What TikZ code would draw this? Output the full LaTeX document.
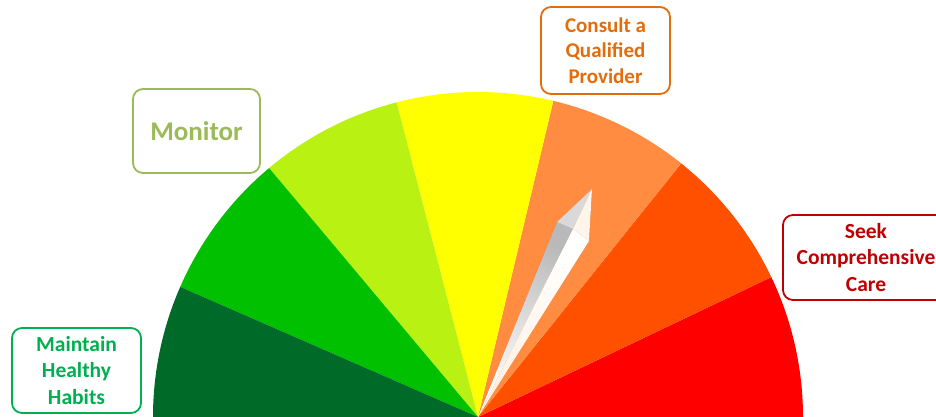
\documentclass[tikz,border=0pt]{standalone}
\usepackage{fontspec}
\setmainfont{Carlito}
\usetikzlibrary{positioning}

\definecolor{secDark}{RGB}{0,106,40}
\definecolor{secGreen}{RGB}{0,192,0}
\definecolor{secLime}{RGB}{185,242,18}
\definecolor{secYellow}{RGB}{255,255,0}
\definecolor{secPeach}{RGB}{255,140,64}
\definecolor{secOrange}{RGB}{255,80,0}
\definecolor{secRed}{RGB}{255,0,0}
\definecolor{tagHabit}{RGB}{0,176,80}
\definecolor{tagMonitor}{RGB}{155,187,89}
\definecolor{tagConsult}{RGB}{228,108,10}
\definecolor{tagSeek}{RGB}{192,0,0}

\begin{document}
\begin{tikzpicture}[x=1pt, y=1pt, font=\bfseries]
    \tikzstyle{tag} = [draw, rectangle, fill=white, align=center, rounded corners=10pt, line width=1.8pt, inner sep=0pt, minimum width=129pt, minimum height=85pt]
    \useasboundingbox (0,0) rectangle (936,417);

    % gauge sectors
    \coordinate (pivot) at (478,0);
    \foreach \from/\to/\col in {0/25.5/secRed, 25.5/51.3/secOrange, 51.3/76.6/secPeach, 76.6/104.5/secYellow, 104.5/130/secLime, 130/156.4/secGreen, 156.4/180/secDark}
        \fill[\col] (pivot) -- ++(\from:325) arc[start angle=\from, end angle=\to, radius=325] -- cycle;

    % needle
    \coordinate (shL) at (557,195);
    \coordinate (tip) at (592,228);
    \coordinate (shR) at (589,176);
    \coordinate (ridge) at (573,188);
    \fill[black, opacity=0.22, xshift=-3pt, yshift=-2pt] (pivot) -- (shL) -- (tip) -- (shR) -- cycle;
    \shade[left color=gray!55, right color=white, shading angle=-26.6] (pivot) -- (shL) -- (ridge) -- cycle;
    \shade[left color=white, right color=orange!12, shading angle=-26.6] (pivot) -- (ridge) -- (shR) -- cycle;
    \fill[gray!30] (shL) -- (tip) -- (ridge) -- cycle;
    \fill[orange!8] (ridge) -- (tip) -- (shR) -- cycle;

    % labels
    \node[tag, draw=tagHabit, text=tagHabit, font=\bfseries\fontsize{21.5}{26.5}\selectfont] (habits) at (76.5,46.5) {Maintain\\Healthy\\Habits};
    \node[tag, draw=tagMonitor, text=tagMonitor, minimum width=127pt, minimum height=84pt, font=\bfseries\fontsize{27}{32}\selectfont] (monitor) at (196.5,286) {Monitor};
    \node[tag, draw=tagConsult, text=tagConsult, minimum height=87pt, font=\bfseries\fontsize{21}{25.5}\selectfont] (consult) at (605.5,366.5) {Consult a\\Qualified\\Provider};
    \node[tag, draw=tagSeek, text=tagSeek, minimum width=166pt, font=\bfseries\fontsize{21.5}{26.5}\selectfont] (seek) at (866,159.5) {Seek\\Comprehensive\\Care};
\end{tikzpicture}
\end{document}
